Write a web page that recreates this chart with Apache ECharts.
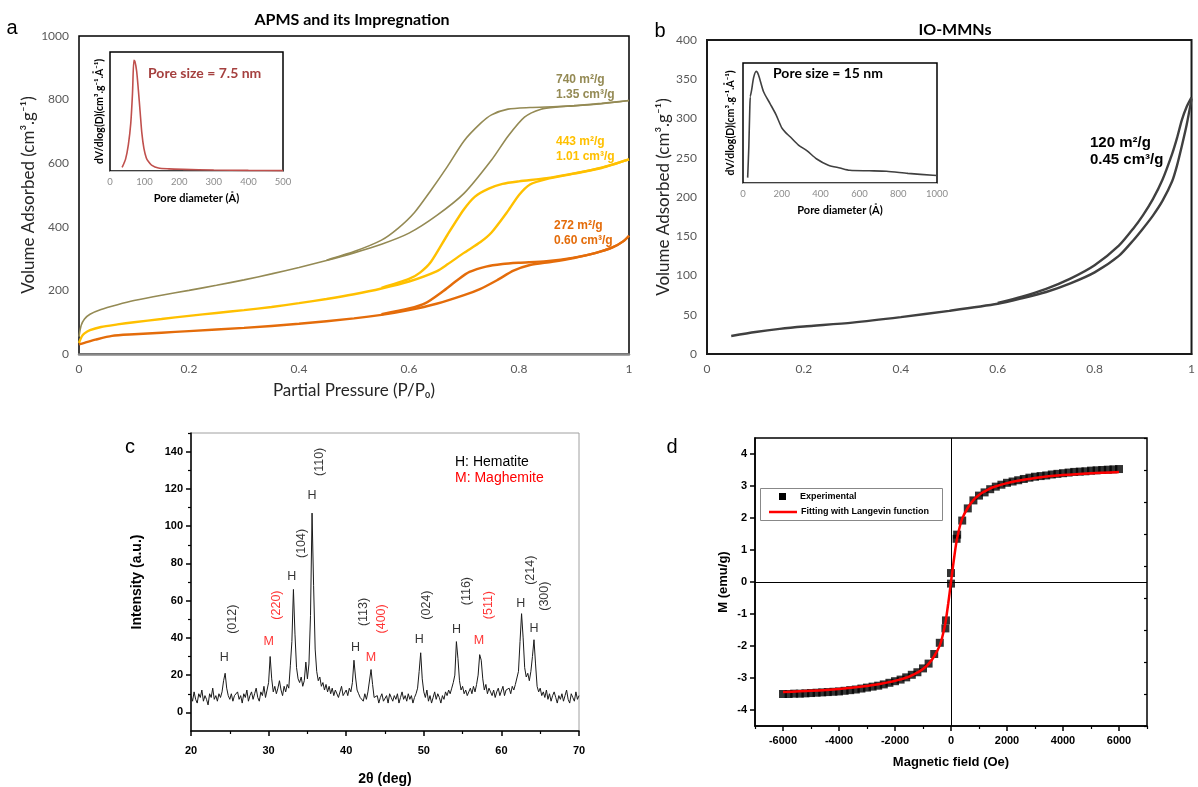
<!DOCTYPE html>
<html><head><meta charset="utf-8">
<script src="https://cdn.jsdelivr.net/npm/echarts@6/dist/echarts.min.js"></script>
<style>html,body{margin:0;padding:0;background:#fff}#c{width:1198px;height:787px}</style>
</head><body><div id="c"></div><script>
// ---------- Panel a: N2 isotherms (P/P0, cm3/g) ----------
const olAds = [[0,55],[0.004,90],[0.01,110],[0.02,125],[0.04,140],[0.07,155],[0.1,168],[0.15,185],[0.2,200],[0.25,216],[0.3,233],[0.35,252],[0.4,272],[0.45,294],[0.5,318],[0.55,345],[0.6,380],[0.65,435],[0.7,505],[0.75,610],[0.78,685],[0.81,745],[0.84,770],[0.87,777],[0.9,780],[0.95,787],[1,797]];
const olDes = [[0.45,295],[0.5,322],[0.55,358],[0.58,395],[0.61,445],[0.64,515],[0.67,590],[0.7,670],[0.73,725],[0.75,752],[0.78,770],[0.82,775],[0.87,778],[0.9,781],[0.95,788],[1,797]];
const yeAds = [[0,35],[0.005,55],[0.01,65],[0.02,75],[0.04,85],[0.07,93],[0.1,100],[0.15,110],[0.2,120],[0.25,129],[0.3,138],[0.35,148],[0.4,160],[0.45,173],[0.5,188],[0.55,206],[0.6,228],[0.65,260],[0.67,282],[0.7,318],[0.73,352],[0.75,382],[0.78,450],[0.8,500],[0.82,533],[0.85,550],[0.9,567],[0.95,585],[1,612]];
const yeDes = [[0.55,208],[0.6,236],[0.62,256],[0.64,290],[0.67,375],[0.7,455],[0.72,495],[0.745,520],[0.77,535],[0.8,543],[0.85,553],[0.9,568],[0.95,586],[1,612]];
const orAds = [[0,30],[0.01,35],[0.03,45],[0.06,57],[0.1,62],[0.15,67],[0.2,72],[0.3,82],[0.4,95],[0.5,112],[0.55,123],[0.6,138],[0.65,158],[0.7,185],[0.73,205],[0.76,232],[0.79,262],[0.82,280],[0.86,290],[0.9,302],[0.94,318],[0.97,335],[0.99,355],[1,372]];
const orDes = [[0.55,125],[0.6,143],[0.63,160],[0.66,195],[0.69,235],[0.71,258],[0.74,275],[0.77,283],[0.8,287],[0.85,292],[0.9,303],[0.94,318],[0.97,335],[0.99,355],[1,372]];
// inset a: pore size distribution (Å, relative dV/dlogD)
const psdA = [[35,3],[45,10],[53,22],[60,40],[65,65],[69,93],[72,92],[77,84],[82,68],[87,50],[92,32],[98,19],[105,11],[111,8],[120,5],[140,2.5],[170,1.8],[212,1.4],[300,0.8],[400,0.5],[500,0.3]];

// ---------- Panel b: IO-MMNs isotherm ----------
const ioAds = [[0.05,23],[0.1,28],[0.15,32],[0.2,35],[0.3,40],[0.4,47],[0.5,55],[0.6,64],[0.65,71],[0.7,79],[0.75,90],[0.8,104],[0.85,125],[0.88,145],[0.9,160],[0.92,176],[0.94,195],[0.96,220],[0.97,240],[0.98,265],[0.99,292],[1,325]];
const ioDes = [[0.6,65],[0.65,73],[0.7,83],[0.75,96],[0.8,113],[0.85,138],[0.88,160],[0.9,177],[0.92,197],[0.94,222],[0.96,255],[0.97,275],[0.98,298],[0.99,315],[1,327]];
const psdB = [[24,4.5],[30,30],[35,62],[38,72],[41,72],[45,78],[55,88],[68,93],[80,90],[106,76],[140,66],[170,57],[200,46],[220,42],[243,38.5],[286,31.6],[329,27],[380,20],[440,14.8],[500,12.5],[551,10.6],[650,10.2],[740,9.8],[850,8],[979,6.4],[1000,6.2]];

// ---------- Panel c: XRD (2θ from 20 to 70, step 0.2) ----------
const xrdStart = 20, xrdStep = 0.2;
const xrdI = [
 9,6,11,7,5, 10,8,12,6,9, 7,4,10,8,13, 7,9,6,10,8, 11,17,21,13,9,
 7,10,6,9,8, 11,7,9,5,10, 8,12,6,9,11, 7,10,13,8,6, 11,9,14,8,12,
 16,30,18,11,14, 10,13,17,12,9, 14,11,15,13,25, 38,66,42,24,18, 16,19,14,17,27,
 18,26,52,107,68, 34,22,17,19,14, 16,12,15,11,14, 10,13,9,12,11, 8,11,14,9,10,
 12,9,13,11,16, 28,19,12,10,8, 9,6,10,7,11, 10,23,15,8,7, 9,5,8,10,6,
 7,9,5,10,8, 6,9,7,10,5, 8,11,7,9,6, 10,7,9,5,8, 10,13,22,32,18,
 11,8,12,6,9, 5,8,11,7,10, 8,5,9,7,11, 9,12,10,13,16, 20,38,29,17,12,
 14,10,12,9,11, 13,10,14,11,15, 20,31,28,18,12, 15,10,13,11,9, 12,8,11,13,9,
 10,14,9,12,11, 13,10,14,12,15, 15,22,38,53,40, 24,19,21,17,22, 30,39,26,14,11,
 13,9,11,8,12, 7,10,6,9,11, 8,5,9,7,10, 6,9,12,7,5, 10,8,6,11,7,
 9];
// peak annotations (phase letter and Miller index)
const peakLetter  = ['H','M','H','H','H','M','H','H','M','H','H'];
const peakLetterX = [24.3,30.0,33.0,35.6,41.2,43.2,49.4,54.2,57.1,62.5,64.2];
const peakLetterY = [29.4,37.9,73,116.4,34.7,29.4,39,44.3,38.4,58.2,44.8];
const peakHkl     = ['(012)','(220)','(104)','(110)','(113)','(400)','(024)','(116)','(511)','(214)','(300)'];
const peakHklX    = [25.4,31.0,34.2,36.6,42.2,44.6,50.4,55.5,58.3,63.8,65.6];
const peakHklY    = [50,57.6,90.7,134.5,53.9,50.2,57.6,65.1,57.6,76.3,62.4];

// ---------- Panel d: magnetization ----------
const magH = [-6000,-5800,-5600,-5400,-5200,-5000,-4800,-4600,-4400,-4200,-4000,-3800,-3600,-3400,-3200,-3000,-2800,-2600,-2400,-2200,-2000,-1800,-1600,-1400,-1200,-1000,-800,-600,-400,-200,-180,0,0,200,220,400,600,800,1000,1200,1400,1600,1800,2000,2200,2400,2600,2800,3000,3200,3400,3600,3800,4000,4200,4400,4600,4800,5000,5200,5400,5600,5800,6000];
const magM = [-3.50,-3.50,-3.49,-3.49,-3.48,-3.47,-3.46,-3.45,-3.44,-3.43,-3.42,-3.40,-3.38,-3.36,-3.33,-3.30,-3.27,-3.24,-3.20,-3.15,-3.10,-3.05,-2.98,-2.90,-2.82,-2.70,-2.55,-2.25,-1.90,-1.45,-1.20,-0.05,0.28,1.35,1.48,1.92,2.30,2.55,2.70,2.80,2.90,2.98,3.04,3.10,3.14,3.18,3.22,3.26,3.29,3.31,3.33,3.36,3.38,3.40,3.42,3.44,3.45,3.46,3.48,3.49,3.50,3.51,3.52,3.53];
const fitH = [-6000,-5000,-4000,-3000,-2500,-2000,-1500,-1200,-1000,-800,-600,-400,-300,-200,-100,0,100,200,300,400,600,800,1000,1200,1500,2000,2500,3000,4000,5000,6000];
const fitM = [-3.44,-3.40,-3.34,-3.25,-3.18,-3.09,-2.96,-2.83,-2.72,-2.56,-2.32,-1.98,-1.68,-1.28,-0.68,0,0.68,1.28,1.68,1.98,2.32,2.56,2.72,2.83,2.96,3.09,3.18,3.25,3.34,3.40,3.44];

// ---------- tick values ----------
const cYLabels = [0,20,40,60,80,100,120,140];
const cYMinor = [10,30,50,70,90,110,130,150];
const dXLabels = [-6000,-4000,-2000,0,2000,4000,6000];
const dXMinor = [-7000,-5000,-3000,-1000,1000,3000,5000,7000];
const dYLabels = [-4,-3,-2,-1,0,1,2,3,4];
const dYMinor = [-4.5,-3.5,-2.5,-1.5,-0.5,0.5,1.5,2.5,3.5,4.5];

const F1 = 'Lato, "Open Sans", sans-serif';
const F2 = '"Liberation Sans", Arial, sans-serif';
const OLIVE = '#948a54', YELLOW = '#ffc000', ORANGE = '#e46c0a';
const plain = v => String(v);

const xrd = xrdI.map((v, i) => [+(xrdStart + i * xrdStep).toFixed(2), v]);
const mag = magH.map((h, i) => [h, magM[i]]);
const fit = fitH.map((h, i) => [h, fitM[i]]);

const chart = echarts.init(document.getElementById('c'), null, {renderer: 'canvas'});

function isoSeries(data, color, w, xi, yi) {
  return {type: 'line', data, xAxisIndex: xi, yAxisIndex: yi, showSymbol: false, symbol: 'none',
    smooth: 0.25, lineStyle: {color, width: w}, itemStyle: {color}, silent: true, animation: false};
}
const none = {show: false};

const option = {
  animation: false,
  backgroundColor: '#fff',
  grid: [
    {left: 79, top: 36, width: 550, height: 318, show: true, borderColor: '#000', borderWidth: 1.5, backgroundColor: 'transparent'},
    {left: 110, top: 52, width: 173, height: 119, show: true, borderColor: '#000', borderWidth: 1.5, backgroundColor: '#fff'},
    {left: 707, top: 40, width: 489, height: 314, show: true, borderColor: '#1a1a1a', borderWidth: 2, backgroundColor: 'transparent'},
    {left: 743, top: 63, width: 194, height: 120, show: true, borderColor: '#000', borderWidth: 1.5, backgroundColor: '#fff'},
    {left: 191, top: 433, width: 388, height: 300, show: true, borderColor: '#a0a0a0', borderWidth: 1, backgroundColor: 'transparent'},
    {left: 755, top: 438, width: 392, height: 288, show: true, borderColor: '#000', borderWidth: 1.5, backgroundColor: 'transparent'}
  ],
  xAxis: [
    {gridIndex: 0, type: 'value', min: 0, max: 1, interval: 0.2,
      axisLine: {show: true, onZero: false, lineStyle: {color: '#898989', width: 2.5}}, axisTick: none, splitLine: none,
      axisLabel: {color: '#595959', fontSize: 12, fontFamily: F1, margin: 9, formatter: plain},
      name: 'Partial Pressure (P/P₀)', nameLocation: 'middle', nameGap: 28,
      nameTextStyle: {fontSize: 17, fontFamily: F1, color: '#262626'}},
    {gridIndex: 1, type: 'value', min: 0, max: 500, interval: 100,
      axisLine: {show: true, onZero: false, lineStyle: {color: '#bfbfbf', width: 1}}, axisTick: none, splitLine: none,
      axisLabel: {color: '#8c8c8c', fontSize: 9.5, fontFamily: F1, margin: 6, formatter: plain},
      name: 'Pore diameter (Å)', nameLocation: 'middle', nameGap: 22,
      nameTextStyle: {fontSize: 11, fontWeight: 'bold', fontFamily: F1, color: '#000'}},
    {gridIndex: 2, type: 'value', min: 0, max: 1, interval: 0.2,
      axisLine: {show: true, onZero: false, lineStyle: {color: '#1a1a1a', width: 2}}, axisTick: none, splitLine: none,
      axisLabel: {color: '#595959', fontSize: 12, fontFamily: F1, margin: 9, formatter: plain}},
    {gridIndex: 3, type: 'value', min: 0, max: 1000, interval: 200,
      axisLine: {show: true, onZero: false, lineStyle: {color: '#bfbfbf', width: 1}}, axisTick: none, splitLine: none,
      axisLabel: {color: '#8c8c8c', fontSize: 9.5, fontFamily: F1, margin: 6, formatter: plain},
      name: 'Pore diameter (Å)', nameLocation: 'middle', nameGap: 22,
      nameTextStyle: {fontSize: 11, fontWeight: 'bold', fontFamily: F1, color: '#000'}},
    {gridIndex: 4, type: 'value', min: 20, max: 70, interval: 10,
      axisLine: {show: true, onZero: false, lineStyle: {color: '#000', width: 1.5}},
      axisTick: {show: true, length: 5, lineStyle: {color: '#000', width: 1.5}},
      minorTick: {show: true, splitNumber: 2, length: 3, lineStyle: {color: '#000', width: 1.2}},
      splitLine: none,
      axisLabel: {color: '#000', fontSize: 11, fontWeight: 'bold', fontFamily: F2, margin: 14, formatter: plain},
      name: '2θ (deg)', nameLocation: 'middle', nameGap: 41,
      nameTextStyle: {fontSize: 14, fontWeight: 'bold', fontFamily: F2, color: '#000'}},
    {gridIndex: 5, type: 'value', min: -7000, max: 7000,
      axisLine: {show: true, onZero: false, lineStyle: {color: '#000', width: 1.5}},
      axisTick: {show: true, length: 5, customValues: dXLabels, lineStyle: {color: '#000', width: 1.5}},
      splitLine: none,
      axisLabel: {customValues: dXLabels, color: '#000', fontSize: 11, fontWeight: 'bold', fontFamily: F2, margin: 9, formatter: plain},
      name: 'Magnetic field (Oe)', nameLocation: 'middle', nameGap: 30,
      nameTextStyle: {fontSize: 13, fontWeight: 'bold', fontFamily: F2, color: '#000'}},
    {gridIndex: 5, type: 'value', min: -7000, max: 7000, position: 'top', offset: -288,
      axisLine: none, axisLabel: none, splitLine: none,
      axisTick: {show: true, inside: true, length: 3, customValues: dXMinor, lineStyle: {color: '#000', width: 1.2}}}
  ],
  yAxis: [
    {gridIndex: 0, type: 'value', min: 0, max: 1000, interval: 200,
      axisLine: none, axisTick: none, splitLine: none,
      axisLabel: {color: '#595959', fontSize: 12, fontFamily: F1, margin: 10, formatter: plain},
      name: 'Volume Adsorbed (cm³.g⁻¹)', nameLocation: 'middle', nameRotate: 90, nameGap: 36,
      nameTextStyle: {fontSize: 17, fontFamily: F1, color: '#262626'}},
    {gridIndex: 1, type: 'value', min: 0, max: 100,
      axisLine: none, axisTick: none, splitLine: none, axisLabel: none,
      name: 'dV/dlog(D)(cm³.g⁻¹.Å⁻¹)', nameLocation: 'middle', nameRotate: 90, nameGap: 5,
      nameTextStyle: {fontSize: 10.5, fontWeight: 'bold', fontFamily: F1, color: '#000'}},
    {gridIndex: 2, type: 'value', min: 0, max: 400, interval: 50,
      axisLine: none, axisTick: none, splitLine: none,
      axisLabel: {color: '#595959', fontSize: 12, fontFamily: F1, margin: 10, formatter: plain},
      name: 'Volume Adsorbed (cm³.g⁻¹)', nameLocation: 'middle', nameRotate: 90, nameGap: 31,
      nameTextStyle: {fontSize: 17, fontFamily: F1, color: '#262626'}},
    {gridIndex: 3, type: 'value', min: 0, max: 100,
      axisLine: none, axisTick: none, splitLine: none, axisLabel: none,
      name: 'dV/dlog(D)(cm³.g⁻¹.Å⁻¹)', nameLocation: 'middle', nameRotate: 90, nameGap: 7,
      nameTextStyle: {fontSize: 10.5, fontWeight: 'bold', fontFamily: F1, color: '#000'}},
    {gridIndex: 4, type: 'value', min: -10, max: 150,
      axisLine: {show: true, onZero: false, lineStyle: {color: '#000', width: 1.5}},
      axisTick: {show: true, length: 5, customValues: cYLabels, lineStyle: {color: '#000', width: 1.5}},
      splitLine: none,
      axisLabel: {customValues: cYLabels, color: '#000', fontSize: 11, fontWeight: 'bold', fontFamily: F2, margin: 8, formatter: plain},
      name: 'Intensity (a.u.)', nameLocation: 'middle', nameRotate: 90, nameGap: 47,
      nameTextStyle: {fontSize: 14, fontWeight: 'bold', fontFamily: F2, color: '#000'}},
    {gridIndex: 4, type: 'value', min: -10, max: 150, position: 'right', offset: -388,
      axisLine: none, axisLabel: none, splitLine: none,
      axisTick: {show: true, inside: true, length: 3, customValues: cYMinor, lineStyle: {color: '#000', width: 1.2}}},
    {gridIndex: 5, type: 'value', min: -4.5, max: 4.5,
      axisLine: {show: true, onZero: false, lineStyle: {color: '#000', width: 1.5}},
      axisTick: {show: true, length: 5, customValues: dYLabels, lineStyle: {color: '#000', width: 1.5}},
      splitLine: none,
      axisLabel: {customValues: dYLabels, color: '#000', fontSize: 11, fontWeight: 'bold', fontFamily: F2, margin: 8, formatter: plain},
      name: 'M (emu/g)', nameLocation: 'middle', nameRotate: 90, nameGap: 25,
      nameTextStyle: {fontSize: 13, fontWeight: 'bold', fontFamily: F2, color: '#000'}},
    {gridIndex: 5, type: 'value', min: -4.5, max: 4.5, position: 'right', offset: -392,
      axisLine: none, axisLabel: none, splitLine: none,
      axisTick: {show: true, inside: true, length: 3, customValues: dYMinor, lineStyle: {color: '#000', width: 1.2}}}
  ],
  series: [
    isoSeries(olAds, OLIVE, 1.6, 0, 0),
    isoSeries(olDes, OLIVE, 1.6, 0, 0),
    isoSeries(yeAds, YELLOW, 2.4, 0, 0),
    isoSeries(yeDes, YELLOW, 2.4, 0, 0),
    isoSeries(orAds, ORANGE, 2.4, 0, 0),
    isoSeries(orDes, ORANGE, 2.4, 0, 0),
    isoSeries(psdA, '#c0504d', 1.6, 1, 1),
    isoSeries(ioAds, '#404040', 2.4, 2, 2),
    isoSeries(ioDes, '#404040', 2.4, 2, 2),
    isoSeries(psdB, '#404040', 1.6, 3, 3),
    {type: 'line', data: xrd, xAxisIndex: 4, yAxisIndex: 4, showSymbol: false, symbol: 'none',
      lineStyle: {color: '#1a1a1a', width: 1}, silent: true},
    {type: 'scatter', xAxisIndex: 4, yAxisIndex: 4, symbolSize: 0, silent: true,
      data: peakLetter.map((t, i) => ({name: t, value: [peakLetterX[i], peakLetterY[i]],
        label: {color: t === 'M' ? '#ff0000' : '#000'}})),
      label: {show: true, position: 'inside', formatter: '{b}', fontSize: 12.5, fontFamily: F2}},
    {type: 'scatter', xAxisIndex: 4, yAxisIndex: 4, symbolSize: 0, silent: true,
      data: peakHkl.map((t, i) => ({name: t, value: [peakHklX[i], peakHklY[i]],
        label: {color: peakLetter[i] === 'M' ? '#ff0000' : '#000'}})),
      label: {show: true, position: 'inside', rotate: 90, formatter: '{b}', fontSize: 12.5, fontFamily: F2}},
    {type: 'scatter', data: mag, xAxisIndex: 5, yAxisIndex: 6, symbol: 'rect', symbolSize: 8,
      itemStyle: {color: '#000'}, silent: true,
      markLine: {silent: true, symbol: 'none', label: none, lineStyle: {color: '#000', width: 1, type: 'solid'},
        data: [{xAxis: 0}, {yAxis: 0}]}},
    {type: 'line', data: fit, xAxisIndex: 5, yAxisIndex: 6, showSymbol: false, symbol: 'none', smooth: 0.3,
      lineStyle: {color: '#ff0000', width: 2.5}, silent: true, z: 5}
  ],
  graphic: [
    {type: 'text', x: 12, y: 28, style: {text: 'a', font: '20px ' + F2, fill: '#000', align: 'center', verticalAlign: 'middle'}},
    {type: 'text', x: 660, y: 31, style: {text: 'b', font: '20px ' + F2, fill: '#000', align: 'center', verticalAlign: 'middle'}},
    {type: 'text', x: 130, y: 447, style: {text: 'c', font: '20px ' + F2, fill: '#000', align: 'center', verticalAlign: 'middle'}},
    {type: 'text', x: 672, y: 447, style: {text: 'd', font: '20px ' + F2, fill: '#000', align: 'center', verticalAlign: 'middle'}},
    {type: 'text', x: 352, y: 20, style: {text: 'APMS and its Impregnation', font: 'bold 16px ' + F1, fill: '#000', align: 'center', verticalAlign: 'middle'}},
    {type: 'text', x: 955, y: 30, style: {text: 'IO-MMNs', font: 'bold 16px ' + F1, fill: '#000', align: 'center', verticalAlign: 'middle'}},
    {type: 'text', x: 556, y: 80, style: {text: '740 m²/g', font: 'bold 12px ' + F2, fill: OLIVE, verticalAlign: 'middle'}},
    {type: 'text', x: 556, y: 95, style: {text: '1.35 cm³/g', font: 'bold 12px ' + F2, fill: OLIVE, verticalAlign: 'middle'}},
    {type: 'text', x: 556, y: 142, style: {text: '443 m²/g', font: 'bold 12px ' + F2, fill: YELLOW, verticalAlign: 'middle'}},
    {type: 'text', x: 556, y: 157, style: {text: '1.01 cm³/g', font: 'bold 12px ' + F2, fill: YELLOW, verticalAlign: 'middle'}},
    {type: 'text', x: 554, y: 226, style: {text: '272 m²/g', font: 'bold 12px ' + F2, fill: ORANGE, verticalAlign: 'middle'}},
    {type: 'text', x: 554, y: 241, style: {text: '0.60 cm³/g', font: 'bold 12px ' + F2, fill: ORANGE, verticalAlign: 'middle'}},
    {type: 'text', x: 148, y: 73, z: 10, style: {text: 'Pore size = 7.5 nm', font: 'bold 14px ' + F1, fill: '#a5403f', verticalAlign: 'middle'}},
    {type: 'text', x: 1090, y: 143, style: {text: '120 m²/g', font: 'bold 15px ' + F2, fill: '#000', verticalAlign: 'middle'}},
    {type: 'text', x: 1090, y: 160, style: {text: '0.45 cm³/g', font: 'bold 15px ' + F2, fill: '#000', verticalAlign: 'middle'}},
    {type: 'text', x: 773, y: 73, z: 10, style: {text: 'Pore size = 15 nm', font: 'bold 14px ' + F1, fill: '#000', verticalAlign: 'middle'}},
    {type: 'text', x: 455, y: 462, style: {text: 'H: Hematite', font: '14px ' + F2, fill: '#000', verticalAlign: 'middle'}},
    {type: 'text', x: 455, y: 478, style: {text: 'M: Maghemite', font: '14px ' + F2, fill: '#ff0000', verticalAlign: 'middle'}},
    {type: 'rect', z: 10, shape: {x: 760.5, y: 488.5, width: 182, height: 32}, style: {fill: '#fff', stroke: '#888', lineWidth: 1}},
    {type: 'rect', z: 11, shape: {x: 779, y: 493, width: 7, height: 7}, style: {fill: '#000'}},
    {type: 'line', z: 11, shape: {x1: 769, y1: 512, x2: 797, y2: 512}, style: {stroke: '#ff0000', lineWidth: 2.5}},
    {type: 'text', z: 11, x: 800, y: 497, style: {text: 'Experimental', font: 'bold 9px ' + F2, fill: '#000', verticalAlign: 'middle'}},
    {type: 'text', z: 11, x: 801, y: 512, style: {text: 'Fitting with Langevin function', font: 'bold 9px ' + F2, fill: '#000', verticalAlign: 'middle'}}
  ]
};
chart.setOption(option);
</script></body></html>
